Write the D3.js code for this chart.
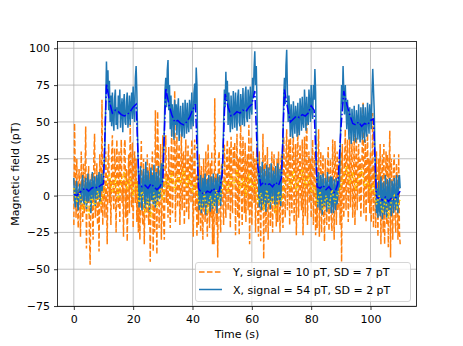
<!DOCTYPE html>
<html>
<head>
<meta charset="utf-8">
<script src="https://cdn.jsdelivr.net/npm/d3@7"></script>
<style>
  body { margin: 0; background: #fff; }
  text { font-family: "DejaVu Sans", sans-serif; font-size: 11px; fill: #000; }
</style>
</head>
<body>
<div id="svgContainer"></div>
<script>
// raw samples every 0.25 s, smoothed samples every 1 s
const rawStep = 0.25,
      smoothStep = 1

// Y raw (orange), one line per low / high stretch
const yRaw = [
  -20, 49, 10, -15, 25, -8, -22, 18, 5, -28, 30, 0, -18, 22, -12, 8, 47, -36, 12, -5,
  20, -25, -47, 6, 15, -10, -30, 25, 42, -15, -5, 22, -20, 10, -38, 28, 2, -12, 65, -20, 15, 5,
  -15, 30, 8, -33, 20, 35, -5, 12, -20, 25, 41, 0, -10, 32, 15, -25, 38, 5, -8, 30,
  -18, 20, 38, -5, 10, -28, 33, 38, -15, 18, -31, 5, 28, -12, 49, 15, -8, 36, -22, 20, 30, -5, 25, -18, 10,
  -25, 15, -30, 5, 37, -10, -20, 25, -33, 8, 20, -15, 28, -5, -20, 22, -45, 0, 15, 30,
  -38, 10, -25, 58, 5, -40, 57, 20, -22, 12, 35, -30, 0, 41, -15,
  -30, 20, 41, -5, 15, -15, 33, 5, -22, 25, 45, -12, 10, 30, 71, -18, 15, 40, -8, 20,
  35, -20, 10, 42, -10, 25, 30, -20, 15, 38, -12, 5, 34, -16, 20, 28, -5, 38, 12, -28, 25, 38, -10, 15, -28, 20,
  -20, 28, 5, -25, 20, -10, -30, 25, 0, -18, 30, -5, -28, 35, 10, -22, 22, -15, 30, -33,
  12, -33, 66, 5, -20, 15, -42, 25, 30, -10, -25, 20, 22, -5,
  -20, 35, 10, -15, 25, 38, -10, 15, 33, -22, 40, 5, -12, 33, 20, 36, -27, 10, 42, -15,
  25, -27, 30, 48, 0, -20, 40, 15, -12, 36, -18, 20, 28, -10, 48, -33, 10, 40, -20, 15, 30, -5, 25, -25, 20, 35, -15,
  -28, 30, 5, -31, 20, -10, 42, -43, 15, 28, -25, 0, 33, -30, 10, 22, -21, -5, 30, -25,
  15, 28, -12, 5, -21, 25, -18, 30, 0, -25, 20, 28, -15,
  -22, 40, 10, -15, 25, 45, -10, 20, 38, -20, 42, 5, -12, 30, 40, -18, 15, 35, -27, 20,
  45, -15, 10, 35, 0, -10, 38, -27, 15, 40, -14, 20, 63, -20, 10, 30, -5, 25, -15, 20, 38, -20, 15, 30, -27, 10,
  -22, 20, 45, -28, 5, 30, -25, 10, 28, -15, -31, 25, 0, -20, 20, 33, -24, 5, 25, -15,
  -24, 38, 10, -30, 37, 15, -20, 30, -10, -5, 25, -20,
  30, -45, 35, 5, -15, 20, 45, -10, 25, 38, -18, 10, 40, -8, 20, 36, -15, 5, 42, -20,
  15, 40, -10, 20, 35, -5, 25, -15, 10, 38, 63, -12, 15, 38, -18, 20, 42, -5, 25, -12, 30, -18, 15, 56, -22, 20, 5,
  -22, 30, 5, -28, 25, -10, 35, -33, 10, 28, -25, 35, -33, 5, 30, -20, 28, -35, 15, 44,
  -42, 25, 0, -30, 20, 28, -15, -25, 22, 10, -30, 28, -25, -33
]

// X raw (blue)
const xRaw = [
  12, -3, -8, 6, 10, -5, -10, 4, 8, -2, -6, 9, 14, -4, -5, 7, 12, -9, 0, 15,
  -4, 6, 11, -12, 2, 16, -3, 8, 13, -7, 1, 14, -2, 10, 16, -5, 4, 15, 3, 9, 16, 22,
  35, 62, 91, 70, 85, 58, 78, 50, 68, 47, 70, 52, 44, 66, 72, 48, 60, 45, 68, 55,
  72, 46, 58, 66, 43, 62, 69, 50, 48, 64, 70, 46, 55, 68, 48, 61, 70, 52, 74, 58, 50, 80, 88, 70, 40,
  15, -8, 10, 20, -5, -10, 12, 18, 2, -9, 23, 5, -6, 17, 10, -11, 8, 19, -3, 14,
  -6, 21, 4, -8, 16, 9, -4, 20, 0, -2, 13, 22, 5, 18, 30,
  45, 72, 80, 60, 85, 92, 58, 75, 45, 68, 40, 62, 55, 38, 65, 48, 62, 41, 58, 66,
  37, 52, 61, 44, 40, 63, 50, 39, 65, 55, 42, 63, 48, 43, 65, 60, 45, 70, 52, 47, 70, 76, 58, 87, 75, 25,
  12, -10, 5, 14, -12, 0, 12, -8, 8, 15, -13, 3, 11, -6, 14, -2, -11, 13, 6, -9,
  15, 0, -7, 12, 9, -12, 15, -4, 2, 14, -7, 10, 18, 25,
  50, 72, 60, 84, 65, 78, 48, 70, 55, 43, 68, 52, 45, 71, 60, 46, 70, 58, 44, 67,
  72, 50, 47, 69, 62, 48, 73, 55, 47, 69, 74, 53, 50, 72, 64, 52, 74, 60, 55, 80, 66, 86, 98, 75, 88, 60, 25,
  12, -8, 20, 5, -10, 23, 8, -6, 18, 2, -11, 21, 10, -5, 19, 0, -9, 22, 6, -4,
  17, 12, -7, 20, 3, -6, 22, 9, -3, 18, -7, 14, 25,
  40, 68, 80, 62, 88, 99, 70, 50, 68, 55, 40, 62, 48, 39, 64, 52, 42, 61, 55, 40,
  63, 47, 41, 66, 58, 44, 67, 50, 46, 72, 60, 44, 67, 52, 48, 72, 62, 50, 75, 58, 52, 75, 65, 86, 70, 18,
  10, -8, 16, 3, -10, 14, 6, -13, 15, -2, -7, 12, 8, -11, 16, 0, -9, 10, 13, -12,
  13, -3, -12, 11, 4, -10, 12, -6, 2, 13, 5, 28,
  55, 75, 62, 88, 70, 55, 75, 60, 45, 65, 52, 38, 60, 48, 35, 59, 50, 37, 61, 45,
  36, 58, 52, 38, 62, 44, 36, 60, 48, 38, 62, 50, 36, 60, 46, 40, 63, 52, 42, 62, 55, 45, 70, 86, 72, 58, 30,
  12, -12, 5, -15, 10, -8, -14, 13, 0, -16, 9, 2, -13, 14, -5, -15, 11, 3, -10, 12,
  -8, -14, 10, 5, -12, 12, -3, -10, 14, 2, -12, 12, 14, 5
]

// X smoothed (blue dash-dot)
const xSmooth = [
  1, 0, 2, 4, 5, 3, 5, 6, 5, 7, 8,
  76, 64, 56, 58, 57, 55, 54, 55, 57, 60, 62,
  8, 6, 7, 5, 8, 6, 4, 6, 10,
  73, 62, 55, 50, 51, 49, 48, 50, 53, 58, 62,
  5, 2, 1, 3, 2, 5, 2, 3, 14,
  69, 60, 54, 55, 57, 56, 58, 57, 60, 62, 71,
  20, 7, 9, 7, 8, 6, 9, 7, 12,
  72, 60, 50, 52, 54, 53, 55, 54, 56, 61, 58,
  6, 5, 7, 4, 6, 3, 2, 8,
  45, 71, 62, 55, 49, 48, 50, 47, 49, 48, 51, 52,
  -1, -2, -3, -1, -4, -2, -3, 0, 3
]

// Y smoothed (gold dotted)
const ySmooth = [
  5, -5, 2, -10, -3, -13, 0, -8, 3, -6, 2,
  8, 15, 2, 12, -2, 10, 16, 4, 12, 0, 10,
  -5, 3, -12, -2, -15, 2, -8, 5, -3,
  12, 5, 16, 3, 14, 8, 18, 6, 12, 2, 9,
  -3, -10, 2, -12, 0, -8, 4, -5, 6,
  10, 2, 14, 6, 18, 4, 12, 0, 15, 5, 10,
  -5, 2, -10, 4, -6, 0, -12, 3, -4,
  8, 15, 5, 17, 3, 12, 18, 6, 14, 2, 8,
  -6, 3, -10, 0, -8, 4, -5, 2,
  6, 14, 20, 8, 16, 4, 12, 18, 6, 10, 2, 8,
  -6, 0, -12, -2, -15, -4, 0, -8, -3
]

const xTicks = [0, 20, 40, 60, 80, 100]
const yTicks = [-75, -50, -25, 0, 25, 50, 75, 100]
const legendLabels = ['Y, signal = 10 pT, SD = 7 pT', 'X, signal = 54 pT, SD = 2 pT']

const W = 463, H = 346
const m = {left: 57.5, right: 416.5, top: 41.5, bottom: 306.5}

const xScale = d3.scaleLinear()
                 .domain([-5.5, 115.5])
                 .range([m.left, m.right])

const yScale = d3.scaleLinear()
                 .domain([-75.3, 104.6])
                 .range([m.bottom, m.top])

const svg = d3.select('#svgContainer')
              .append('svg')
              .attr('width', W)
              .attr('height', H)

// grid
svg.append('g')
   .selectAll('line')
   .data(xTicks)
   .enter()
   .append('line')
   .attr('x1', d => xScale(d)).attr('x2', d => xScale(d))
   .attr('y1', m.top).attr('y2', m.bottom)
   .attr('stroke', '#b0b0b0').attr('stroke-width', 0.8)

svg.append('g')
   .selectAll('line')
   .data(yTicks)
   .enter()
   .append('line')
   .attr('y1', d => yScale(d)).attr('y2', d => yScale(d))
   .attr('x1', m.left).attr('x2', m.right)
   .attr('stroke', '#b0b0b0').attr('stroke-width', 0.8)

const lineOf = (step) => d3.line()
                           .x((d, i) => xScale(i * step))
                           .y(d => yScale(d))

const plotArea = svg.append('g')

plotArea.append('path')
        .datum(yRaw)
        .attr('d', lineOf(rawStep))
        .attr('fill', 'none')
        .attr('stroke', '#ff7f0e')
        .attr('stroke-width', 1.5)
        .attr('stroke-dasharray', '5.55,2.4')

plotArea.append('path')
        .datum(xRaw)
        .attr('d', lineOf(rawStep))
        .attr('fill', 'none')
        .attr('stroke', '#1f77b4')
        .attr('stroke-width', 1.5)

plotArea.append('path')
        .datum(xSmooth)
        .attr('d', lineOf(smoothStep))
        .attr('fill', 'none')
        .attr('stroke', '#0000ff')
        .attr('stroke-width', 1.5)
        .attr('stroke-dasharray', '9.6,2.4,1.5,2.4')

plotArea.append('path')
        .datum(ySmooth)
        .attr('d', lineOf(smoothStep))
        .attr('fill', 'none')
        .attr('stroke', '#ffd700')
        .attr('stroke-width', 1.5)
        .attr('stroke-dasharray', '1.5,2.5')

// axes
const xAxis = svg.append('g')
                 .attr('transform', 'translate(0,' + m.bottom + ')')
                 .call(d3.axisBottom(xScale).tickValues(xTicks).tickSize(3.5).tickPadding(5.5))
const yAxis = svg.append('g')
                 .attr('transform', 'translate(' + m.left + ',0)')
                 .call(d3.axisLeft(yScale).tickValues(yTicks).tickSize(3.5).tickPadding(4)
                          .tickFormat(d => d < 0 ? '\u2212' + Math.abs(d) : d))

;[xAxis, yAxis].forEach(ax => {
  ax.select('.domain').remove()
  ax.selectAll('line').attr('stroke', '#000').attr('stroke-width', 0.8)
  ax.selectAll('text').attr('font-family', '"DejaVu Sans", sans-serif').attr('font-size', 11).attr('fill', '#000')
})

svg.append('rect')
   .attr('x', m.left).attr('y', m.top)
   .attr('width', m.right - m.left).attr('height', m.bottom - m.top)
   .attr('fill', 'none')
   .attr('stroke', '#000')
   .attr('stroke-width', 0.8)

svg.append('text')
   .attr('x', (m.left + m.right) / 2)
   .attr('y', 338)
   .attr('text-anchor', 'middle')
   .text('Time (s)')

svg.append('text')
   .attr('transform', 'translate(18.5,' + ((m.top + m.bottom) / 2) + ') rotate(-90)')
   .attr('text-anchor', 'middle')
   .text('Magnetic field (pT)')

// legend
const legend = svg.append('g')
legend.append('rect')
      .attr('x', 195.5).attr('y', 262.5)
      .attr('width', 215).attr('height', 39)
      .attr('rx', 2.5)
      .attr('fill', '#fff').attr('fill-opacity', 0.8)
      .attr('stroke', '#cccccc').attr('stroke-width', 0.8)

const legendStyles = [
  {color: '#ff7f0e', dash: '5.55,2.4'},
  {color: '#1f77b4', dash: null}
]

legendLabels.forEach((label, i) => {
  const y = 272 + i * 17.5
  legend.append('line')
        .attr('x1', 199).attr('x2', 222)
        .attr('y1', y).attr('y2', y)
        .attr('stroke', legendStyles[i].color)
        .attr('stroke-width', 1.5)
        .attr('stroke-dasharray', legendStyles[i].dash)
  legend.append('text')
        .attr('x', 233)
        .attr('y', y + 4)
        .text(label)
})
</script>
</body>
</html>
